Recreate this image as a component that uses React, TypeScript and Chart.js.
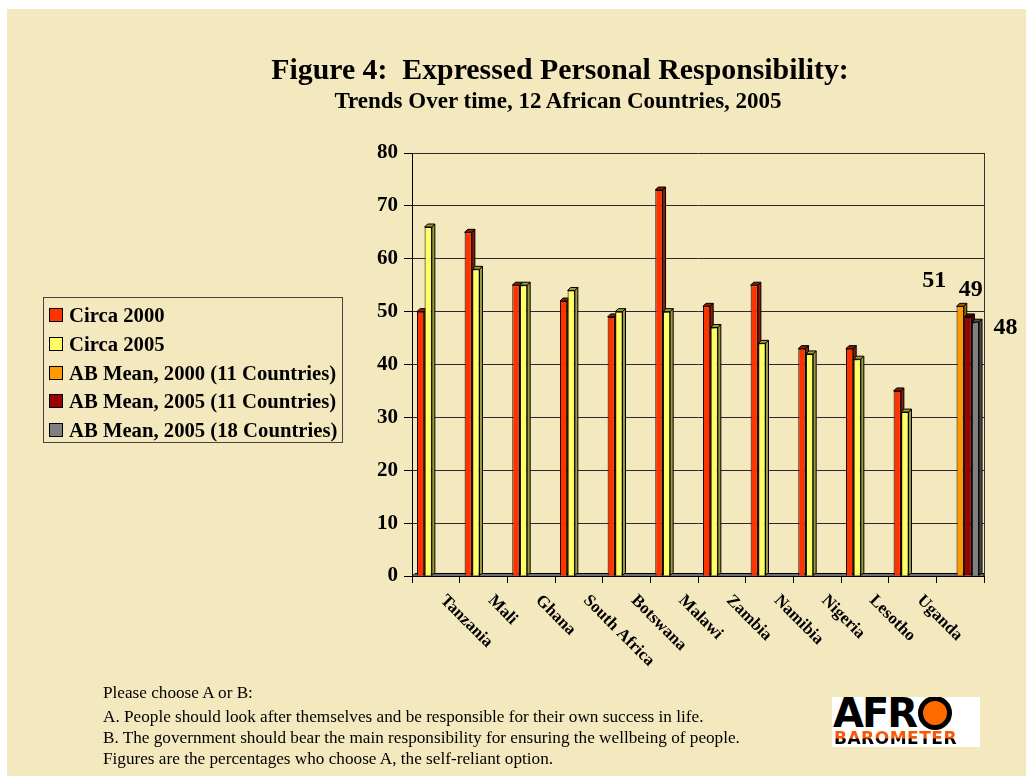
import React, { useEffect, useRef } from 'react';
import { Chart, registerables } from 'chart.js';

Chart.register(...registerables);

// Categories: eleven countries plus an unlabelled slot for the Afrobarometer means
const countries = ['Tanzania', 'Mali', 'Ghana', 'South Africa', 'Botswana', 'Malawi', 'Zambia', 'Namibia', 'Nigeria', 'Lesotho', 'Uganda', ''];
const circa2000 = [50, 65, 55, 52, 49, 73, 51, 55, 43, 43, 35, null];
const circa2005 = [66, 58, 55, 54, 50, 50, 47, 44, 42, 41, 31, null];
const abMean2000of11 = [null, null, null, null, null, null, null, null, null, null, null, 51];
const abMean2005of11 = [null, null, null, null, null, null, null, null, null, null, null, 49];
const abMean2005of18 = [null, null, null, null, null, null, null, null, null, null, null, 48];

const seriesNames = ['Circa 2000', 'Circa 2005', 'AB Mean, 2000 (11 Countries)', 'AB Mean, 2005 (11 Countries)', 'AB Mean, 2005 (18 Countries)'];
const seriesValues = [circa2000, circa2005, abMean2000of11, abMean2005of11, abMean2005of18];
const seriesColors = ['#FF3300', '#FFFF66', '#FF9900', '#990000', '#808080'];
const seriesShades = ['#8a1c00', '#9a9a3e', '#9a5c00', '#520000', '#4a4a4a'];

const yMin = 0;
const yMax = 80;
const yStep = 10;

const titleText = 'Figure 4:  Expressed Personal Responsibility:';
const subtitleText = 'Trends Over time, 12 African Countries, 2005';
const footnotes = [
  'Please choose A or B:',
  'A. People should look after themselves and be responsible for their own success in life.',
  'B. The government should bear the main responsibility for ensuring the wellbeing of people.',
  'Figures are the percentages who choose A, the self-reliant option.',
];

const SERIF = '"Liberation Serif", "Times New Roman", serif';
const DEPTH = 3;

// Offsets of the value labels on the three mean bars, relative to each bar top
const meanLabelOffsets: Record<number, [number, number]> = {
  2: [-26, -26],
  3: [3, -27],
  4: [30, 6],
};

const bars3d = {
  id: 'bars3d',
  beforeDatasetsDraw(chart: any) {
    const { ctx, chartArea } = chart;
    ctx.save();
    // floor slab
    ctx.lineWidth = 1;
    ctx.strokeStyle = '#000';
    ctx.fillStyle = '#6e6e6e';
    ctx.beginPath();
    ctx.moveTo(chartArea.left, chartArea.bottom + 0.5);
    ctx.lineTo(chartArea.left + DEPTH, chartArea.bottom - DEPTH + 0.5);
    ctx.lineTo(chartArea.right, chartArea.bottom - DEPTH + 0.5);
    ctx.lineTo(chartArea.right, chartArea.bottom + 0.5);
    ctx.closePath();
    ctx.fill();
    ctx.stroke();
    // right wall edge
    ctx.strokeStyle = '#333';
    ctx.beginPath();
    ctx.moveTo(chartArea.right + 0.5, chartArea.top);
    ctx.lineTo(chartArea.right + 0.5, chartArea.bottom);
    ctx.stroke();

    const n = chart.data.labels.length;
    const nd = chart.data.datasets.length;
    for (let j = 0; j < n; j++) {
      for (let i = 0; i < nd; i++) {
        const v = chart.data.datasets[i].data[j];
        const el = chart.getDatasetMeta(i).data[j];
        if (v == null || !el) continue;
        const { x, y, base, width } = el.getProps(['x', 'y', 'base', 'width'], true);
        const x0 = x - width / 2;
        const x1 = x + width / 2;
        ctx.fillStyle = seriesShades[i];
        ctx.strokeStyle = '#000';
        ctx.lineWidth = 1;
        // side face
        ctx.beginPath();
        ctx.moveTo(x1, y);
        ctx.lineTo(x1 + DEPTH, y - DEPTH);
        ctx.lineTo(x1 + DEPTH, base - DEPTH);
        ctx.lineTo(x1, base);
        ctx.closePath();
        ctx.fill();
        ctx.stroke();
        // top face
        ctx.beginPath();
        ctx.moveTo(x0, y);
        ctx.lineTo(x0 + DEPTH, y - DEPTH);
        ctx.lineTo(x1 + DEPTH, y - DEPTH);
        ctx.lineTo(x1, y);
        ctx.closePath();
        ctx.fill();
        ctx.stroke();
        // front face, drawn by the bar element itself
        el.draw(ctx, chartArea);
      }
    }
    ctx.restore();
    return false;
  },
};

const slantedLabels = {
  id: 'slantedLabels',
  afterDraw(chart: any) {
    const { ctx } = chart;
    const xs = chart.scales.x;
    ctx.save();
    ctx.font = `bold 17px ${SERIF}`;
    ctx.fillStyle = '#000';
    ctx.textAlign = 'left';
    ctx.textBaseline = 'middle';
    countries.forEach((name, i) => {
      if (!name) return;
      const x = xs.getPixelForValue(i);
      ctx.save();
      ctx.translate(x + 7, xs.top + 22);
      ctx.rotate(Math.PI / 4);
      ctx.fillText(name, 0, 0);
      ctx.restore();
    });
    ctx.restore();
  },
};

const meanLabels = {
  id: 'meanLabels',
  afterDraw(chart: any) {
    const { ctx } = chart;
    ctx.save();
    ctx.font = `bold 24px ${SERIF}`;
    ctx.fillStyle = '#000';
    ctx.textAlign = 'center';
    ctx.textBaseline = 'middle';
    Object.keys(meanLabelOffsets).forEach((k) => {
      const i = Number(k);
      const data = chart.data.datasets[i].data;
      data.forEach((v: number | null, j: number) => {
        if (v == null) return;
        const el = chart.getDatasetMeta(i).data[j];
        const [dx, dy] = meanLabelOffsets[i];
        ctx.fillText(String(v), el.x + dx, el.y + dy);
      });
    });
    ctx.restore();
  },
};

export default function App() {
  const canvasRef = useRef<HTMLCanvasElement | null>(null);

  useEffect(() => {
    const canvas = canvasRef.current;
    if (!canvas) return;
    const chart = new Chart(canvas, {
      type: 'bar',
      data: {
        labels: countries,
        datasets: seriesNames.map((name, i) => ({
          label: name,
          data: seriesValues[i],
          backgroundColor: seriesColors[i],
          borderColor: '#000',
          borderWidth: 1,
          categoryPercentage: 0.8,
          barPercentage: 0.95,
        })),
      },
      options: {
        responsive: false,
        animation: false,
        devicePixelRatio: 1,
        layout: { padding: { left: 355, right: 42, top: 144, bottom: 190 } },
        plugins: {
          legend: { display: false },
          tooltip: { enabled: false },
          title: { display: false },
        },
        scales: {
          x: {
            grid: {
              display: true,
              offset: true,
              drawOnChartArea: false,
              drawTicks: true,
              tickLength: 7,
              color: '#000',
              tickColor: '#000',
            },
            border: { display: true, color: '#000', width: 1 },
            ticks: { display: false },
            afterFit: (s: any) => {
              s.height = 10;
            },
          },
          y: {
            min: yMin,
            max: yMax,
            ticks: {
              stepSize: yStep,
              color: '#000',
              padding: 6,
              font: { family: SERIF, size: 21, weight: 'bold' },
            },
            grid: {
              color: '#2a2a2a',
              lineWidth: 1,
              tickLength: 8,
              tickColor: '#000',
            },
            border: { display: true, color: '#000', width: 1 },
            afterFit: (s: any) => {
              s.width = 50;
            },
          },
        },
      },
      plugins: [bars3d, slantedLabels, meanLabels],
    });
    return () => chart.destroy();
  }, []);

  return (
    <div
      style={{
        position: 'fixed',
        left: 7,
        top: 9,
        width: 1019,
        height: 767,
        background: '#F4E8BE',
        overflow: 'hidden',
        fontFamily: SERIF,
        color: '#000',
      }}
    >
      <canvas ref={canvasRef} width={1019} height={767} style={{ position: 'absolute', left: 0, top: 0 }} />

      <div
        style={{
          position: 'absolute',
          left: 553,
          top: 45,
          transform: 'translateX(-50%)',
          whiteSpace: 'pre',
          fontWeight: 'bold',
          fontSize: 29.8,
          lineHeight: 1,
        }}
      >
        {titleText}
      </div>
      <div
        style={{
          position: 'absolute',
          left: 551,
          top: 80,
          transform: 'translateX(-50%)',
          whiteSpace: 'pre',
          fontWeight: 'bold',
          fontSize: 23,
          lineHeight: 1,
        }}
      >
        {subtitleText}
      </div>

      <div
        style={{
          position: 'absolute',
          left: 36,
          top: 288,
          width: 300,
          height: 146,
          border: '1px solid #444',
          boxSizing: 'border-box',
        }}
      >
        {seriesNames.map((name, i) => (
          <div
            key={name}
            style={{
              position: 'absolute',
              left: 5,
              top: 6 + i * 28.75,
              height: 22,
              display: 'flex',
              alignItems: 'center',
              whiteSpace: 'nowrap',
            }}
          >
            <span
              style={{
                display: 'inline-block',
                width: 12,
                height: 12,
                background: seriesColors[i],
                border: '1px solid #000',
                marginRight: 6,
              }}
            />
            <span style={{ fontWeight: 'bold', fontSize: 20.7, lineHeight: '22px' }}>{name}</span>
          </div>
        ))}
      </div>

      {footnotes.map((line, i) => (
        <div
          key={i}
          style={{
            position: 'absolute',
            left: 96,
            top: [675, 699, 720, 741][i],
            fontSize: 17.2,
            lineHeight: 1,
            whiteSpace: 'nowrap',
          }}
        >
          {line}
        </div>
      ))}

      <div
        style={{
          position: 'absolute',
          left: 825,
          top: 688,
          width: 148,
          height: 50,
          background: '#fff',
          overflow: 'hidden',
        }}
      >
        <div style={{ position: 'absolute', left: 1, top: -4, display: 'flex', alignItems: 'center' }}>
          <span
            style={{
              fontFamily: '"DejaVu Sans", sans-serif',
              fontWeight: 900,
              fontSize: 40,
              letterSpacing: -2,
              lineHeight: '40px',
              color: '#000',
            }}
          >
            AFR
          </span>
          <span
            style={{
              display: 'inline-block',
              width: 34,
              height: 34,
              borderRadius: '50%',
              background: '#ff6a00',
              border: '5px solid #000',
              boxSizing: 'border-box',
              marginLeft: 2,
            }}
          />
        </div>
        <div
          style={{
            position: 'absolute',
            left: 2,
            top: 33,
            fontFamily: '"DejaVu Sans", sans-serif',
            fontWeight: 900,
            fontSize: 17,
            lineHeight: '17px',
            letterSpacing: 0.5,
            background: 'linear-gradient(#ff5500 0%, #ff5500 45%, #000 55%, #000 100%)',
            WebkitBackgroundClip: 'text',
            backgroundClip: 'text',
            color: 'transparent',
            whiteSpace: 'nowrap',
          }}
        >
          BAROMETER
        </div>
      </div>
    </div>
  );
}
